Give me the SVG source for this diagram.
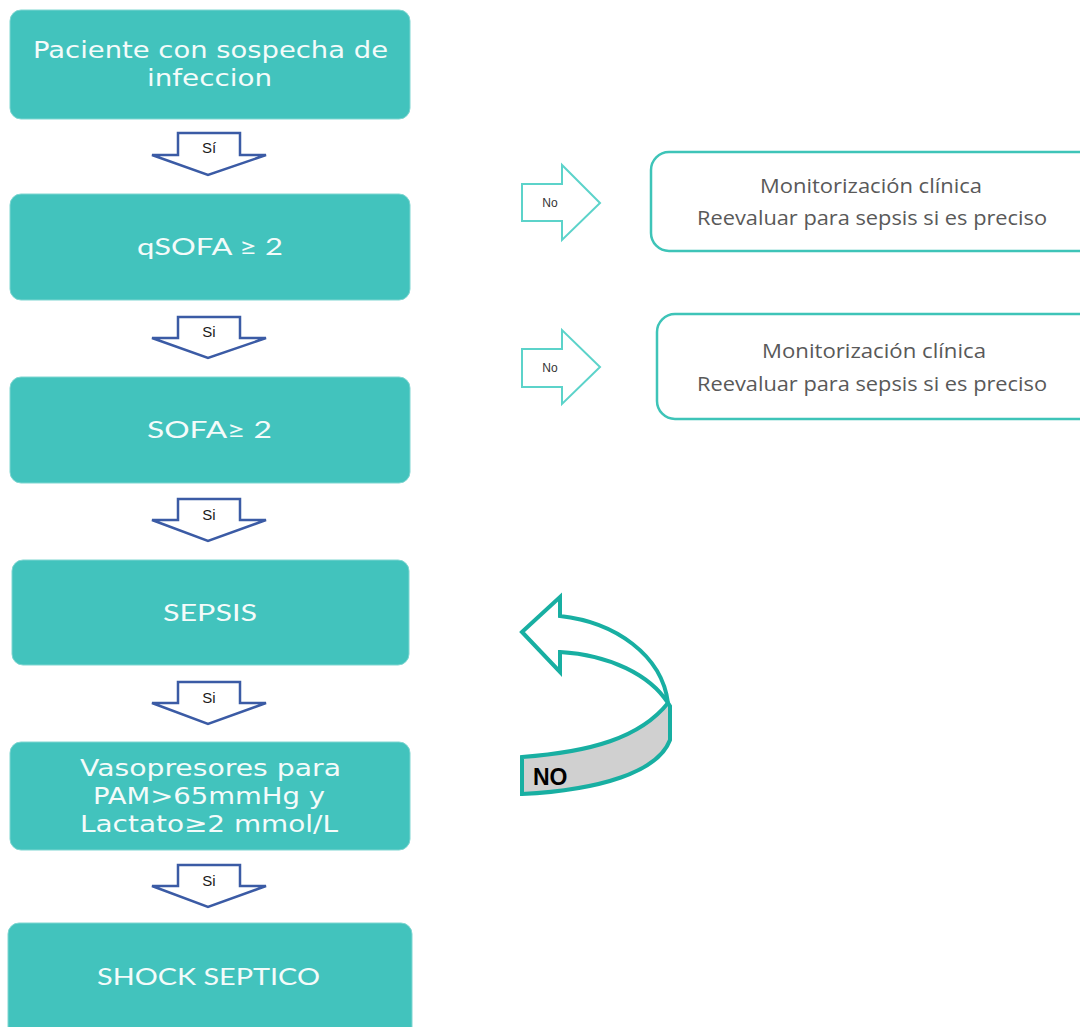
<svg xmlns="http://www.w3.org/2000/svg" width="1080" height="1027" viewBox="0 0 1080 1027">
<style>
.box{fill:#42C3BD;stroke:#7FD6D1;stroke-width:1}
.bt{fill:#F4FBFA;font-family:"DejaVu Sans",sans-serif;font-size:23px}
.lt{fill:#F4FBFA;font-family:Lato,"Liberation Sans",sans-serif;font-size:24px}
.down{fill:#FFFFFF;stroke:#3B5BA5;stroke-width:2.5;stroke-linejoin:miter}
.dl{font-family:"Liberation Sans",sans-serif;font-size:15px;fill:#1A1A1A;text-anchor:middle}
.right{fill:#FFFFFF;stroke:#5CD3CA;stroke-width:2}
.rl{font-family:"Liberation Sans",sans-serif;font-size:12px;fill:#333;text-anchor:middle}
.ob{fill:#FFFFFF;stroke:#3EC4B8;stroke-width:2.5}
.ot{fill:#595959;font-family:"Open Sans",sans-serif;font-size:20px}
.curve{stroke:#18AFA2;stroke-width:4;stroke-linejoin:miter}
</style>
<g id="n1">
<rect class="box" x="10" y="10" width="400" height="109" rx="11"/>
<text class="bt" x="33" y="58" textLength="355" lengthAdjust="spacingAndGlyphs">Paciente con sospecha de</text>
<text class="bt" x="147" y="86" textLength="125" lengthAdjust="spacingAndGlyphs">infeccion</text>
</g>
<g id="n2">
<rect class="box" x="10" y="194" width="400" height="106" rx="11"/>
<text class="lt" x="137" y="255" textLength="146" lengthAdjust="spacingAndGlyphs">qSOFA ≥ 2</text>
</g>
<g id="n3">
<rect class="box" x="10" y="377" width="400" height="106" rx="11"/>
<text class="lt" x="147" y="438" textLength="125" lengthAdjust="spacingAndGlyphs">SOFA≥ 2</text>
</g>
<g id="n4">
<rect class="box" x="12" y="560" width="397" height="105" rx="11"/>
<text class="lt" x="163" y="621" textLength="94" lengthAdjust="spacingAndGlyphs">SEPSIS</text>
</g>
<g id="n5">
<rect class="box" x="10" y="742" width="400" height="108" rx="11"/>
<text class="bt" x="80" y="776" textLength="261" lengthAdjust="spacingAndGlyphs">Vasopresores para</text>
<text class="bt" x="93" y="804" textLength="232" lengthAdjust="spacingAndGlyphs">PAM&gt;65mmHg y</text>
<text class="bt" x="80" y="832" textLength="258" lengthAdjust="spacingAndGlyphs">Lactato≥2 mmol/L</text>
</g>
<g id="n6">
<rect class="box" x="8" y="923" width="404" height="120" rx="11"/>
<text class="lt" x="97" y="985" textLength="223" lengthAdjust="spacingAndGlyphs">SHOCK SEPTICO</text>
</g>
<g id="o1">
<rect class="ob" x="651" y="152" width="460" height="99" rx="18"/>
<text class="ot" x="760" y="193" textLength="222" lengthAdjust="spacingAndGlyphs">Monitorización clínica</text>
<text class="ot" x="697" y="225" textLength="350" lengthAdjust="spacingAndGlyphs">Reevaluar para sepsis si es preciso</text>
</g>
<g id="o2">
<rect class="ob" x="657" y="314" width="460" height="105" rx="18"/>
<text class="ot" x="762" y="358" textLength="224" lengthAdjust="spacingAndGlyphs">Monitorización clínica</text>
<text class="ot" x="697" y="391" textLength="350" lengthAdjust="spacingAndGlyphs">Reevaluar para sepsis si es preciso</text>
</g>
<g id="connectors">
<g id="d1">
<polygon class="down" points="178,133 240,133 240,155 266,155 208,175 152,155 178,155"/>
<text class="dl" x="209" y="153">Sí</text>
</g>
<g id="d2">
<polygon class="down" points="178,317 240,317 240,338 266,338 208,358 152,338 178,338"/>
<text class="dl" x="209" y="337">Si</text>
</g>
<g id="d3">
<polygon class="down" points="178,499 240,499 240,520 266,520 208,541 152,520 178,520"/>
<text class="dl" x="209" y="520">Si</text>
</g>
<g id="d4">
<polygon class="down" points="178,682 240,682 240,703 266,703 208,724 152,703 178,703"/>
<text class="dl" x="209" y="703">Si</text>
</g>
<g id="d5">
<polygon class="down" points="178,865 240,865 240,886 266,886 208,907 152,886 178,886"/>
<text class="dl" x="209" y="886">Si</text>
</g>
<g id="r1">
<polygon class="right" points="522,184 562,184 562,165 600,203 562,240 562,221 522,221"/>
<text class="rl" x="550" y="207">No</text>
</g>
<g id="r2">
<polygon class="right" points="522,349 562,349 562,330 600,367 562,404 562,387 522,387"/>
<text class="rl" x="550" y="372">No</text>
</g>
<g id="loop">
<path class="curve" fill="#D0D0D0" d="M668,703 C640,738 590,752 522,757 L522,794 C600,790 658,772 670,740 L670,706 Z"/>
<path class="curve" fill="#FFFFFF" d="M522,632 L560,597 L560,616 C615,622 662,655 668,703 C650,675 610,655 560,652 L560,672 Z"/>
<text x="533" y="785" font-family="Liberation Sans,sans-serif" font-size="23" font-weight="bold" fill="#000">NO</text>
</g>
</g>
</svg>
